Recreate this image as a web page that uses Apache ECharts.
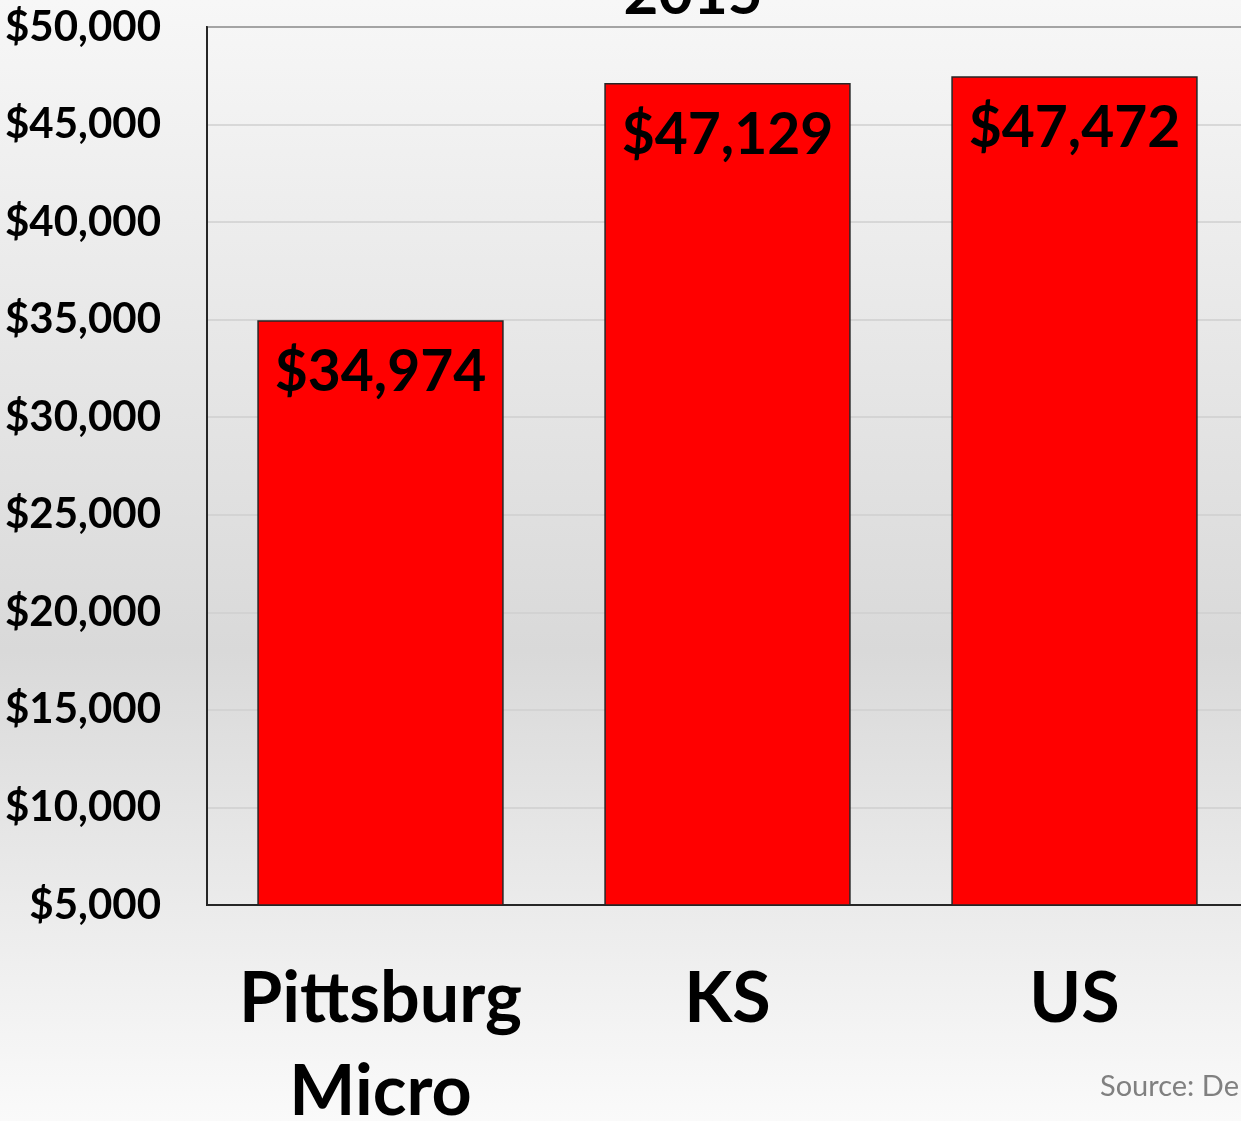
<!DOCTYPE html>
<html>
<head>
<meta charset="utf-8">
<script src="https://cdn.jsdelivr.net/npm/echarts@6/dist/echarts.min.js"></script>
<style>
html,body{margin:0;padding:0;}
#chart{width:1241px;height:1121px;}
</style>
</head>
<body>
<div id="chart"></div>
<script>
var categories = ['Pittsburg\nMicro', 'KS', 'US'];
var incomes = [34974, 47129, 47472];
var yMin = 5000, yMax = 50000, yStep = 5000;

var font = 'Lato, "Open Sans", sans-serif';
var chart = echarts.init(document.getElementById('chart'));
var option = {
    backgroundColor:{
        type:'linear', x:0, y:0, x2:0, y2:1,
        colorStops:[
            {offset:0, color:'#f7f7f7'},
            {offset:0.58, color:'#d9d9d9'},
            {offset:1, color:'#fafafa'}
        ]
    },
    title:{
        text:'2015',
        left:688,
        textAlign:'center',
        top:-40,
        textStyle:{fontFamily:font, fontSize:60, fontWeight:'bold', color:'#000'}
    },
    graphic:[{
        type:'text',
        left:1100,
        top:1072,
        style:{text:'Source: De', fill:'#808080', font:'29px ' + font}
    }],
    grid:{
        left:207, top:27, right:-7, bottom:216,
        outerBoundsMode:'none',
        containLabel:false,
        show:true, borderColor:'#262626', borderWidth:2,
        backgroundColor:'transparent'
    },
    xAxis:{
        type:'category',
        data:categories,
        axisTick:{show:false},
        axisLine:{lineStyle:{color:'#262626', width:2}},
        axisLabel:{
            interval:0,
            hideOverlap:false,
            margin:48,
            fontFamily:font, fontSize:70, fontWeight:'bold', color:'#000',
            lineHeight:93
        }
    },
    yAxis:{
        type:'value',
        min:yMin, max:yMax, interval:yStep,
        axisLine:{show:true, lineStyle:{color:'#262626', width:2}},
        splitLine:{lineStyle:{color:'#cfcfcf', width:1.5}},
        axisLabel:{
            margin:46,
            fontFamily:font, fontSize:42, fontWeight:'bold', color:'#000',
            formatter:function(v){ return '$' + v.toLocaleString('en-US'); }
        }
    },
    series:[{
        type:'bar',
        data:incomes,
        barCategoryGap:'29%',
        itemStyle:{color:'#ff0000', borderColor:'#262626', borderWidth:1.5},
        label:{
            show:true,
            position:'insideTop',
            distance:24,
            fontFamily:font, fontSize:57, fontWeight:'bold', color:'#000',
            formatter:function(p){ return '$' + p.value.toLocaleString('en-US'); }
        }
    }]
};
chart.setOption(option);
</script>
</body>
</html>
